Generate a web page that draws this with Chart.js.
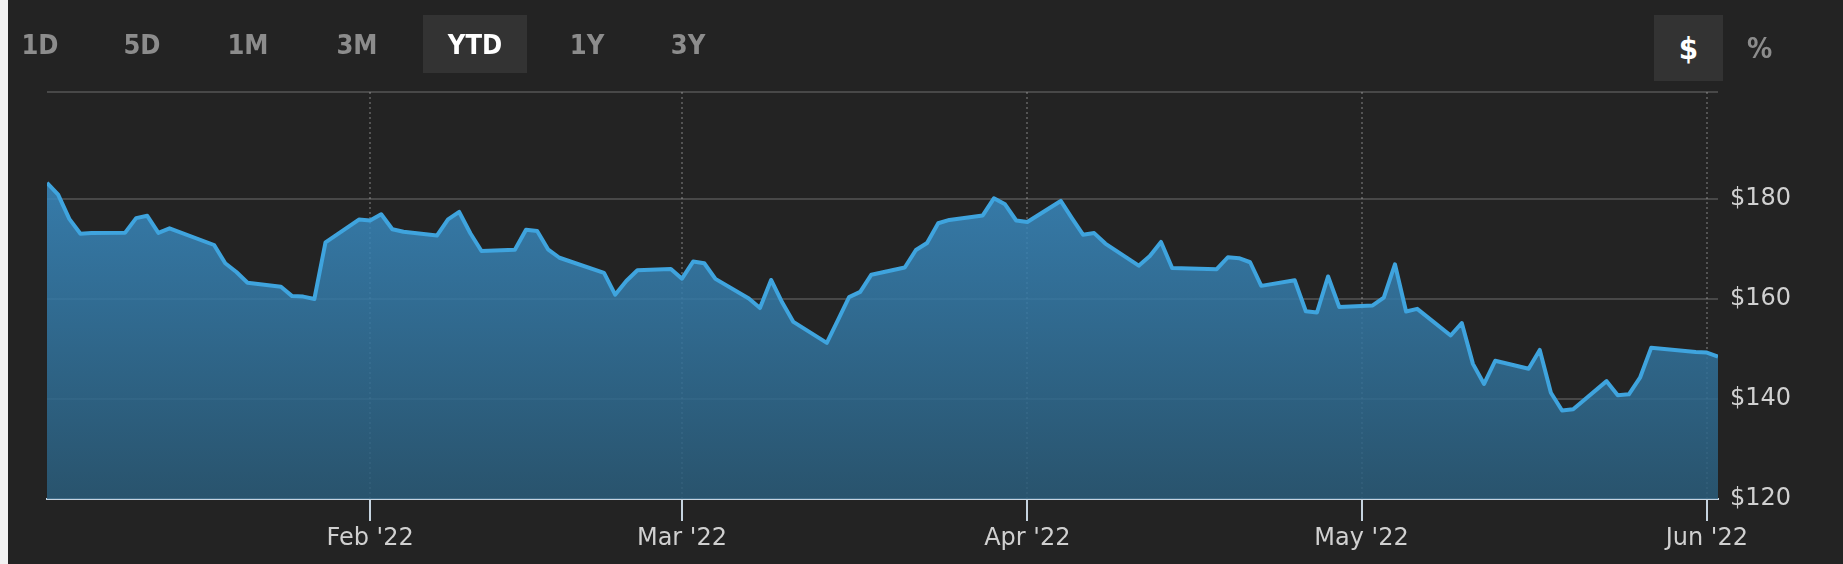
<!DOCTYPE html>
<html>
<head>
<meta charset="utf-8">
<script src="https://cdn.jsdelivr.net/npm/chart.js@4.4.0/dist/chart.umd.min.js"></script>
<style>
  html, body { margin: 0; padding: 0; background: #232323; overflow: hidden; }
  #wrap { position: relative; width: 1843px; height: 564px; background: #232323; }
  #edge { position: absolute; left: 0; top: 0; width: 8px; height: 564px; background: #f2f2f2; }
  canvas { position: absolute; left: 0; top: 0; }
  .btn {
    position: absolute; top: 15px; width: 104px; height: 58px;
    display: flex; align-items: center; justify-content: center;
    font-family: 'DejaVu Sans Condensed', 'DejaVu Sans', sans-serif; font-stretch: condensed;
    font-weight: bold; font-size: 27px; color: #8c8c8c;
  }
  .btn.on { background: #333333; color: #ffffff; }
</style>
</head>
<body>
<div id="wrap">
  <div id="edge"></div>
  <canvas id="chart" width="1843" height="564"></canvas>
  <div class="btn" style="left:-12px;">1D</div>
  <div class="btn" style="left:90px;">5D</div>
  <div class="btn" style="left:196px;">1M</div>
  <div class="btn" style="left:305px;">3M</div>
  <div class="btn on" style="left:423px;">YTD</div>
  <div class="btn" style="left:535px;">1Y</div>
  <div class="btn" style="left:636px;">3Y</div>
  <div class="btn on" style="left:1654px; width:69px; height:66px; font-size:31px;">$</div>
  <div class="btn" style="left:1725px; width:69px; height:66px; font-size:28px;">%</div>
</div>
<script>
// trading days (2022) and prices
const dates = [
  '01-03','01-04','01-05','01-06','01-07','01-10','01-11','01-12','01-13','01-14',
  '01-18','01-19','01-20','01-21','01-24','01-25','01-26','01-27','01-28','01-31',
  '02-01','02-02','02-03','02-04','02-07','02-08','02-09','02-10','02-11','02-14',
  '02-15','02-16','02-17','02-18','02-22','02-23','02-24','02-25','02-28',
  '03-01','03-02','03-03','03-04','03-07','03-08','03-09','03-10','03-11','03-14',
  '03-15','03-16','03-17','03-18','03-21','03-22','03-23','03-24','03-25','03-28',
  '03-29','03-30','03-31',
  '04-01','04-04','04-05','04-06','04-07','04-08','04-11','04-12','04-13','04-14',
  '04-18','04-19','04-20','04-21','04-22','04-25','04-26','04-27','04-28','04-29',
  '05-02','05-03','05-04','05-05','05-06','05-09','05-10','05-11','05-12','05-13',
  '05-16','05-17','05-18','05-19','05-20','05-23','05-24','05-25','05-26','05-27',
  '05-31','06-01','06-02'
];
const prices = [
  183.25,180.89,176.02,173.04,173.21,173.23,176.18,176.64,173.23,174.13,
  170.80,167.15,165.40,163.26,162.45,160.58,160.48,160.00,171.34,175.88,
  175.70,176.96,173.96,173.44,172.69,175.93,177.41,173.16,169.61,169.86,
  173.85,173.60,169.86,168.25,165.21,160.87,163.59,165.75,166.02,
  164.06,167.49,167.15,164.03,160.09,158.19,163.81,159.29,155.42,151.23,
  155.79,160.38,161.43,164.86,166.29,169.80,171.21,175.15,175.81,176.71,
  180.14,178.93,175.70,
  175.40,179.61,176.16,172.87,173.18,171.09,166.67,168.61,171.41,166.20,
  165.97,168.35,168.17,167.35,162.63,163.74,157.54,157.30,164.51,158.40,
  158.72,160.27,166.94,157.51,158.03,152.70,155.20,147.03,143.01,147.65,
  146.05,149.82,141.24,137.70,137.94,143.57,140.77,140.93,144.26,150.23,
  149.42,149.28,148.46
];
const monthTicks = ['02-01', '03-01', '04-01', '05-01', '06-01'];
const monthLabels = ["Feb '22", "Mar '22", "Apr '22", "May '22", "Jun '22"];
const yTicks = [120, 140, 160, 180];
const yMax = 201.4;

// day of year, Jan 1 = 0
const dayOf = s => {
  const [m, d] = s.split('-').map(Number);
  return (Date.UTC(2022, m - 1, d) - Date.UTC(2022, 0, 1)) / 864e5;
};
const points = dates.map((d, i) => ({ x: dayOf(d), y: prices[i] }));

const axisFont = { family: 'DejaVu Sans', size: 24 };

new Chart(document.getElementById('chart'), {
  type: 'line',
  data: {
    datasets: [{
      data: points,
      borderColor: '#3fa4de',
      borderWidth: 4,
      borderJoinStyle: 'round',
      pointRadius: 0,
      tension: 0,
      fill: 'start',
      backgroundColor: (c) => {
        const a = c.chart.chartArea;
        if (!a) return 'rgba(50,120,170,0.85)';
        const g = c.chart.ctx.createLinearGradient(0, a.top, 0, a.bottom);
        g.addColorStop(0, 'rgba(62,152,214,0.85)');
        g.addColorStop(1, 'rgba(42,92,122,0.85)');
        return g;
      }
    }]
  },
  options: {
    responsive: false,
    animation: false,
    devicePixelRatio: 1,
    layout: { padding: { left: 47, top: 92, right: 0, bottom: 0 } },
    plugins: { legend: { display: false }, tooltip: { enabled: false } },
    scales: {
      x: {
        type: 'linear',
        min: dayOf(dates[0]),
        max: dayOf(dates[dates.length - 1]),
        z: 1,
        afterBuildTicks: (s) => { s.ticks = monthTicks.map(m => ({ value: dayOf(m) })); },
        afterFit: (s) => { s.height = 65; },
        grid: { color: 'rgba(255,255,255,0.22)', lineWidth: 2, tickLength: 22, tickColor: '#c5d3df', tickWidth: 2 },
        border: { display: true, color: '#c5d3df', width: 2, dash: [2, 3] },
        ticks: { autoSkip: false, maxRotation: 0, padding: 3, color: '#d0d0d0', font: axisFont,
                 callback: (v, i) => monthLabels[i] }
      },
      y: {
        position: 'right',
        min: yTicks[0],
        max: yMax,
        z: 1,
        afterBuildTicks: (s) => { s.ticks = yTicks.concat([yMax]).map(v => ({ value: v })); },
        afterFit: (s) => { s.width = 125; },
        grid: { color: (c) => c.tick && c.tick.value === 120 ? 'rgba(0,0,0,0)' : 'rgba(255,255,255,0.17)', lineWidth: 2, drawTicks: false },
        border: { display: false },
        ticks: { padding: 12, color: '#d0d0d0', font: axisFont,
                 callback: v => v === yMax ? '' : '$' + v }
      }
    }
  }
});
</script>
</body>
</html>
